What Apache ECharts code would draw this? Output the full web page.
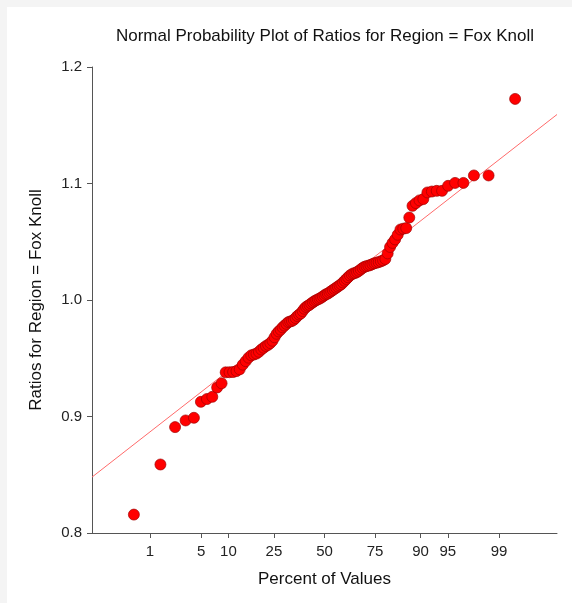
<!DOCTYPE html>
<html>
<head>
<meta charset="utf-8">
<script src="https://cdn.jsdelivr.net/npm/echarts@6/dist/echarts.min.js"></script>
<style>
html,body{margin:0;padding:0;background:#f4f4f4;}
#bg{position:absolute;left:7px;top:7px;width:565px;height:596px;background:#fff;}
#chart{position:absolute;left:0;top:0;width:572px;height:603px;}
</style>
</head>
<body>
<div id="bg"></div>
<div id="chart"></div>
<script>
// Sorted ratios (Region = Fox Knoll), n = 113
const ratios = [
  0.8158, 0.8588, 0.8909, 0.8966, 0.8989, 0.9126, 0.9150, 0.9169, 0.9249, 0.9285,
  0.9379, 0.9380, 0.9382, 0.9390, 0.9405, 0.9445, 0.9475, 0.9505, 0.9525, 0.9532,
  0.9540, 0.9555, 0.9575, 0.9590, 0.9605, 0.9615, 0.9630, 0.9650, 0.9680, 0.9710,
  0.9730, 0.9745, 0.9765, 0.9780, 0.9795, 0.9810, 0.9815, 0.9820, 0.9830, 0.9845,
  0.9862, 0.9875, 0.9885, 0.9905, 0.9925, 0.9940, 0.9950, 0.9958, 0.9970, 0.9980,
  0.9990, 0.9998, 1.0005, 1.0012, 1.0020, 1.0030, 1.0040, 1.0050, 1.0055, 1.0065,
  1.0075, 1.0085, 1.0095, 1.0105, 1.0115, 1.0125, 1.0135, 1.0150, 1.0165, 1.0180,
  1.0195, 1.0210, 1.0220, 1.0228, 1.0232, 1.0240, 1.0250, 1.0262, 1.0275, 1.0285,
  1.0290, 1.0295, 1.0300, 1.0308, 1.0315, 1.0320, 1.0325, 1.0332, 1.0340, 1.0352,
  1.0400, 1.0455, 1.0490, 1.0520, 1.0560, 1.0605, 1.0612, 1.0617, 1.0708, 1.0808,
  1.0832, 1.0855, 1.0866, 1.0923, 1.0931, 1.0937, 1.0937, 1.0980, 1.1005, 1.1005,
  1.1069, 1.1069, 1.1726
];
// Percent tick labels on the normal-probability axis
const percentTicks = [1, 5, 10, 25, 50, 75, 90, 95, 99];
const yTicks = [0.8, 0.9, 1.0, 1.1, 1.2];
// Reference line: value = intercept + slope * z
const lineIntercept = 1.0036;
const lineSlope = 0.0502;

// inverse standard normal CDF (Acklam)
function qnorm(p){
  const a=[-3.969683028665376e+01,2.209460984245205e+02,-2.759285104469687e+02,1.383577518672690e+02,-3.066479806614716e+01,2.506628277459239e+00];
  const b=[-5.447609879822406e+01,1.615858368580409e+02,-1.556989798598866e+02,6.680131188771972e+01,-1.328068155288572e+01];
  const c=[-7.784894002430293e-03,-3.223964580411365e-01,-2.400758277161838e+00,-2.549732539343734e+00,4.374664141464968e+00,2.938163982698783e+00];
  const d=[7.784695709041462e-03,3.224671290700398e-01,2.445134137142996e+00,3.754408661907416e+00];
  const pl=0.02425, ph=1-pl; let q,r;
  if(p<pl){q=Math.sqrt(-2*Math.log(p));return (((((c[0]*q+c[1])*q+c[2])*q+c[3])*q+c[4])*q+c[5])/((((d[0]*q+d[1])*q+d[2])*q+d[3])*q+1);}
  if(p<=ph){q=p-0.5;r=q*q;return (((((a[0]*r+a[1])*r+a[2])*r+a[3])*r+a[4])*r+a[5])*q/(((((b[0]*r+b[1])*r+b[2])*r+b[3])*r+b[4])*r+1);}
  q=Math.sqrt(-2*Math.log(1-p));return -(((((c[0]*q+c[1])*q+c[2])*q+c[3])*q+c[4])*q+c[5])/((((d[0]*q+d[1])*q+d[2])*q+d[3])*q+1);
}
const n = ratios.length;
const points = ratios.map((v,i)=>[qnorm((i+1-0.375)/(n+0.25)), v]);
const tickZ = percentTicks.map(p=>qnorm(p/100));
const zToLabel = {};
tickZ.forEach((z,i)=>{ zToLabel[z.toFixed(6)] = String(percentTicks[i]); });
const xMin=-3.1, xMax=3.1;
const linePts = [[xMin, lineIntercept+lineSlope*xMin],[xMax, lineIntercept+lineSlope*xMax]];

const font = '"Liberation Sans", Arial, sans-serif';
const chart = echarts.init(document.getElementById('chart'));
chart.setOption({
  animation:false,
  backgroundColor:'transparent',
  title:{
    text:'Normal Probability Plot of Ratios for Region = Fox Knoll',
    left:320, top:23, textAlign:'center',
    textStyle:{fontFamily:font,fontSize:17,fontWeight:'normal',color:'#111'}
  },
  grid:{left:92,top:67,right:15,bottom:70,containLabel:false},
  xAxis:{
    type:'value', min:xMin, max:xMax,
    name:'Percent of Values', nameLocation:'middle', nameGap:38,
    nameTextStyle:{fontFamily:font,fontSize:17,color:'#111'},
    axisLine:{show:true,onZero:false,lineStyle:{color:'#555',width:1}},
    axisTick:{show:true,length:5,customValues:tickZ,lineStyle:{color:'#555'}},
    axisLabel:{customValues:tickZ,margin:11,fontFamily:font,fontSize:15,color:'#222',
      formatter:(v)=>zToLabel[Number(v).toFixed(6)]||''},
    splitLine:{show:false}
  },
  yAxis:{
    type:'value', min:0.8, max:1.2, interval:0.1,
    name:'Ratios for Region = Fox Knoll', nameLocation:'middle', nameGap:47, nameRotate:90,
    nameTextStyle:{fontFamily:font,fontSize:17,color:'#111'},
    axisLine:{show:true,onZero:false,lineStyle:{color:'#555',width:1}},
    axisTick:{show:true,length:5,lineStyle:{color:'#555'}},
    axisLabel:{margin:10,fontFamily:font,fontSize:15,color:'#222',formatter:(v)=>v.toFixed(1)},
    splitLine:{show:false}
  },
  series:[
    {type:'line',data:linePts,symbol:'none',lineStyle:{color:'#ff6a6a',width:1},silent:true,z:1},
    {type:'scatter',data:points,symbol:'circle',symbolSize:11,
     itemStyle:{color:'#ff0000',borderColor:'#a00000',borderWidth:0.7,opacity:1},z:2}
  ]
});
</script>
</body>
</html>
